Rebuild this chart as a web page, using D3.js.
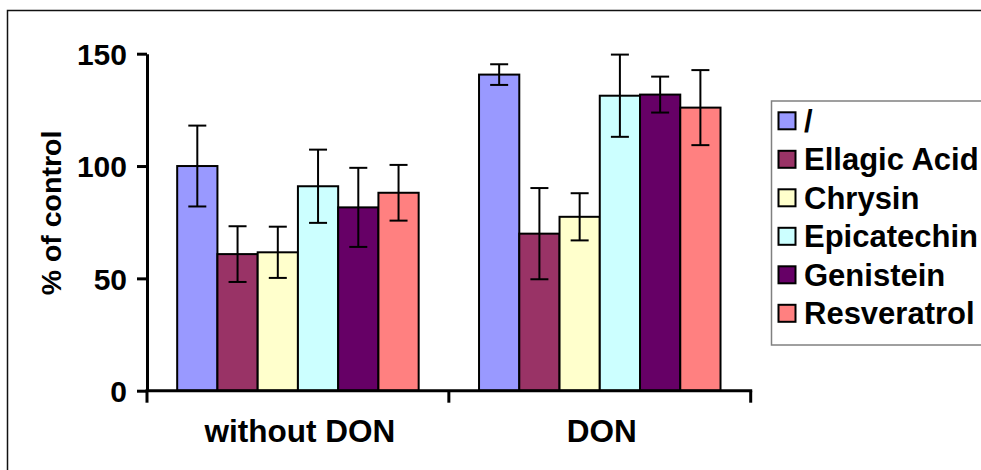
<!DOCTYPE html>
<html>
<head>
<meta charset="utf-8">
<script src="https://cdn.jsdelivr.net/npm/d3@7"></script>
<style>
  html, body { margin: 0; padding: 0; background: #fff; }
  svg { display: block; font-family: "Liberation Sans", Arial, sans-serif; font-weight: bold; }
</style>
</head>
<body>
<svg id="chart" width="981" height="470"></svg>
<script>
const categories = ["without DON", "DON"];
const series = ["/", "Ellagic Acid", "Chrysin", "Epicatechin", "Genistein", "Resveratrol"];
const colors = ["#9999FF", "#993366", "#FFFFCC", "#CCFFFF", "#660066", "#FF8080"];
// values[series][category]
const means = [
  [100, 140.7],
  [60.8, 69.9],
  [61.6, 77.4],
  [91.0, 131.3],
  [81.6, 131.8],
  [88.1, 126.0]
];
const errors = [
  [18.0, 4.6],
  [12.4, 20.3],
  [11.4, 10.5],
  [16.3, 18.3],
  [17.6, 8.0],
  [12.4, 16.7]
];
const yTicks = [0, 50, 100, 150];

const svg = d3.select("#chart");

// outer frame
svg.append("rect")
  .attr("x", 7.5).attr("y", 10.5)
  .attr("width", 1100).attr("height", 600)
  .attr("fill", "#fff")
  .attr("stroke", "#111").attr("stroke-width", 1.5);

const x0 = d3.scaleBand().domain(categories).range([147, 750.7])
  .paddingInner(0.2).paddingOuter(0.1);
const x1 = d3.scaleBand().domain(series).range([0, x0.bandwidth()]);
const y = d3.scaleLinear().domain([0, 150]).range([390.7, 53.7]);

// bars
const groups = svg.append("g").selectAll("g")
  .data(categories).join("g")
  .attr("transform", d => `translate(${x0(d)},0)`);

groups.each(function(cat, ci) {
  const g = d3.select(this);
  series.forEach((s, si) => {
    g.append("rect")
      .attr("x", x1(s))
      .attr("y", y(means[si][ci]))
      .attr("width", x1.bandwidth())
      .attr("height", y(0) - y(means[si][ci]))
      .attr("fill", colors[si])
      .attr("stroke", "#000")
      .attr("stroke-width", 2);
  });
});

// error bars
groups.each(function(cat, ci) {
  const g = d3.select(this);
  series.forEach((s, si) => {
    const cx = x1(s) + x1.bandwidth() / 2;
    const hi = y(means[si][ci] + errors[si][ci]);
    const lo = y(means[si][ci] - errors[si][ci]);
    const eb = g.append("g").attr("stroke", "#000").attr("stroke-width", 2);
    eb.append("line").attr("x1", cx).attr("x2", cx).attr("y1", hi).attr("y2", lo);
    eb.append("line").attr("x1", cx - 9).attr("x2", cx + 9).attr("y1", hi).attr("y2", hi);
    eb.append("line").attr("x1", cx - 9).attr("x2", cx + 9).attr("y1", lo).attr("y2", lo);
  });
});

// y axis
const yAxis = svg.append("g")
  .attr("transform", "translate(147,0)")
  .call(d3.axisLeft(y).tickValues(yTicks).tickSize(10).tickPadding(10).tickSizeOuter(0));
yAxis.select(".domain").attr("stroke", "#000").attr("stroke-width", 3);
yAxis.selectAll(".tick line").attr("stroke", "#000").attr("stroke-width", 3);
yAxis.selectAll(".tick text")
  .attr("fill", "#000")
  .style("font-size", "30px").style("font-weight", "bold")
  .style("font-family", "'Liberation Sans', Arial, sans-serif")
  .attr("dy", "0.36em");

// x axis
const xr = x0.range();
const xAxisG = svg.append("g");
xAxisG.append("line")
  .attr("x1", xr[0] - 1.5).attr("x2", xr[1] + 1.5)
  .attr("y1", y(0)).attr("y2", y(0))
  .attr("stroke", "#000").attr("stroke-width", 3);
d3.range(categories.length + 1).forEach(i => {
  const bx = xr[0] + i * x0.step();
  xAxisG.append("line")
    .attr("x1", bx).attr("x2", bx)
    .attr("y1", y(0)).attr("y2", y(0) + 12)
    .attr("stroke", "#000").attr("stroke-width", 3);
});
xAxisG.selectAll("text.cat")
  .data(categories).join("text")
  .attr("class", "cat")
  .attr("x", d => x0(d) + x0.bandwidth() / 2 + 2)
  .attr("y", 442)
  .attr("text-anchor", "middle")
  .style("font-size", "31.5px")
  .text(d => d);

// y title
svg.append("text")
  .attr("transform", "translate(61,213) rotate(-90)")
  .attr("text-anchor", "middle")
  .style("font-size", "28.5px")
  .text("% of control");

// legend
const leg = svg.append("g");
leg.append("rect")
  .attr("x", 771.5).attr("y", 101)
  .attr("width", 260).attr("height", 244)
  .attr("fill", "#fff")
  .attr("stroke", "#808080").attr("stroke-width", 1.5);
series.forEach((s, i) => {
  const cy = 120.8 + i * 38.5;
  leg.append("rect")
    .attr("x", 778.5).attr("y", cy - 8.5)
    .attr("width", 17).attr("height", 17)
    .attr("fill", colors[i])
    .attr("stroke", "#000").attr("stroke-width", 2);
  leg.append("text")
    .attr("x", 804).attr("y", cy)
    .attr("dy", "0.36em")
    .style("font-size", "31px")
    .text(s);
});
</script>
</body>
</html>
